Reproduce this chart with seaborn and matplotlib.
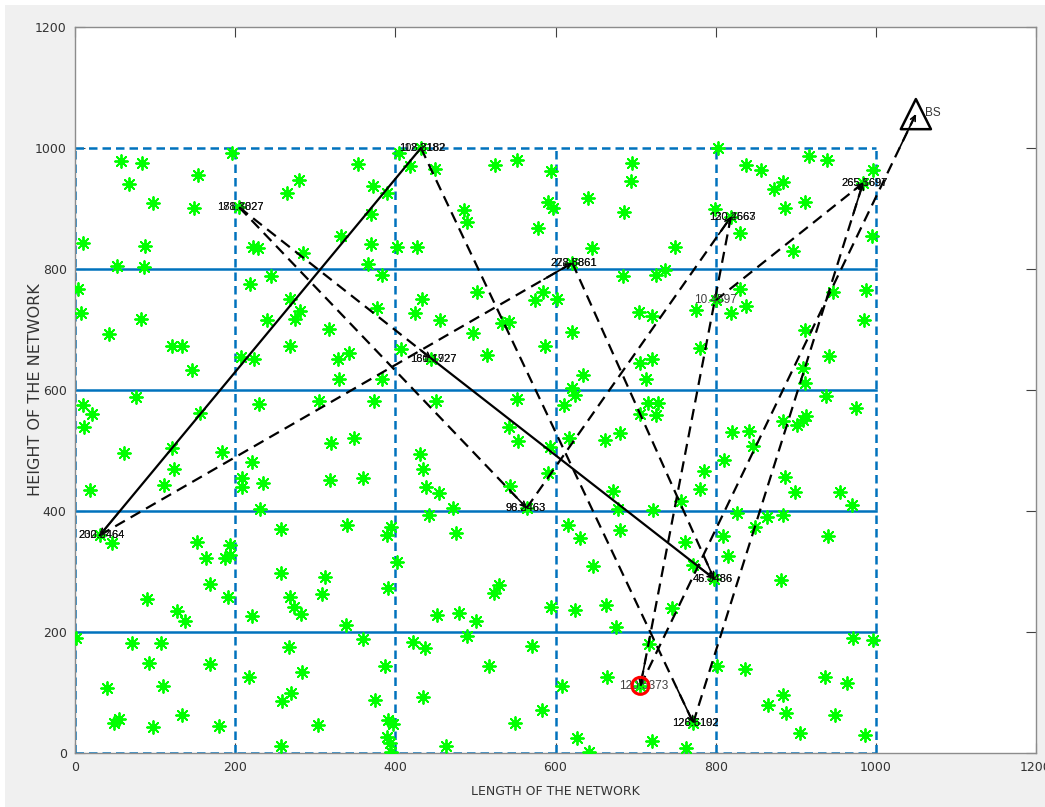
import matplotlib
matplotlib.use("Agg")
import matplotlib.pyplot as plt
from matplotlib.patches import Rectangle
import pandas as pd
import seaborn as sns

# ---------------------------------------------------------------
# Sensor node positions (metres)
# ---------------------------------------------------------------
node_x = [196, 57, 84, 67, 154, 265, 280, 97, 148, 205, 10, 87, 222, 229, 285, 332, 53, 86, 245, 218,
          4, 8, 82, 43, 121, 133, 146, 269, 281, 275, 240, 317, 268, 207, 224, 329, 330, 342, 10, 21,
          11, 76, 156, 61, 121, 123, 111, 183, 19, 305, 230, 320, 221, 209, 208, 235, 318, 231, 257, 152,
          193, 340, 46, 31,
          1, 71, 107, 92, 168, 40, 110, 49, 55, 98, 134, 180, 90, 127, 137, 191, 169, 163, 187, 193,
          221, 217, 257, 268, 274, 282, 312, 309, 339, 267, 283, 270, 259, 304, 257,
          354, 372, 389, 370, 370, 366, 383, 402, 427, 404, 432, 418, 449, 486, 490, 524, 552, 594, 591, 597,
          578, 640, 646, 686, 695, 694, 749, 684, 726, 737, 621,
          502, 433, 424, 377, 456, 575, 585, 602, 533, 542, 497, 620, 587, 515, 407, 445, 383, 634, 621, 624,
          610, 373, 451, 552, 704, 720, 705, 720, 713, 776, 780, 716, 728, 725, 705, 348, 542, 553, 617, 593,
          662, 680, 591, 431, 434, 360, 438, 454, 543, 672, 678, 722, 757, 780, 442, 472, 395, 390, 476, 616,
          630, 680, 762, 564,
          402, 391, 523, 530, 452, 480, 501, 490, 360, 422, 437, 387, 517, 571, 374, 435, 391, 397, 389, 393,
          394, 463, 549, 583, 608, 594, 624, 647, 663, 676, 772, 746, 717, 664, 627, 642, 720, 763, 706, 772,
          803, 838, 857, 873, 884, 917, 939, 996, 984, 886, 911, 830, 799, 819, 897, 995,
          830, 838, 819, 800, 911, 942, 909, 911, 988, 985, 938, 975, 884, 902, 913, 909, 820, 841, 847, 811,
          785, 899, 887, 955, 970, 827, 864, 884, 849, 809, 940, 947,
          816, 882, 798, 972, 996, 802, 837, 936, 964, 884, 888, 865, 949, 905, 986]
node_y = [992, 978, 976, 940, 956, 925, 947, 909, 900, 902, 843, 838, 837, 834, 827, 855, 805, 803, 788, 776,
          767, 728, 718, 692, 672, 672, 633, 750, 731, 717, 715, 700, 673, 654, 652, 651, 618, 661, 575, 560,
          539, 588, 562, 496, 504, 470, 443, 498, 435, 581, 577, 512, 481, 454, 440, 447, 452, 403, 370, 348,
          343, 377, 347, 360,
          190, 181, 181, 148, 147, 107, 111, 50, 57, 43, 62, 45, 254, 234, 219, 258, 279, 323, 322, 327,
          226, 126, 298, 258, 241, 230, 291, 263, 212, 176, 134, 100, 86, 46, 12,
          974, 938, 926, 891, 842, 808, 790, 836, 837, 991, 1000, 971, 966, 897, 878, 972, 980, 962, 911, 900,
          867, 918, 834, 895, 975, 945, 837, 788, 790, 798, 810,
          762, 750, 728, 735, 715, 748, 762, 751, 711, 713, 695, 696, 673, 658, 668, 652, 618, 625, 603, 592,
          575, 581, 582, 585, 729, 722, 645, 651, 619, 733, 669, 579, 578, 559, 560, 520, 539, 516, 521, 505,
          517, 529, 463, 494, 470, 454, 439, 429, 441, 433, 403, 402, 417, 437, 393, 405, 374, 360, 363, 377,
          355, 368, 349, 405,
          316, 272, 264, 278, 228, 231, 219, 193, 188, 184, 173, 143, 144, 177, 88, 92, 55, 48, 27, 16,
          2, 12, 49, 71, 110, 241, 236, 309, 245, 209, 311, 239, 180, 126, 24, 2, 20, 8, 111, 50,
          1000, 972, 964, 933, 944, 987, 980, 964, 942, 900, 910, 859, 899, 886, 830, 855,
          767, 739, 728, 748, 699, 656, 637, 611, 766, 716, 590, 571, 548, 542, 557, 550, 531, 533, 507, 484,
          466, 432, 457, 432, 410, 396, 390, 393, 374, 359, 358, 762,
          326, 286, 288, 190, 187, 143, 139, 126, 115, 96, 66, 79, 63, 33, 30]

# ---------------------------------------------------------------
# Cluster heads and their residual-energy labels
# ---------------------------------------------------------------
head_id = ["A", "B", "C", "D", "E", "F", "G", "H", "I", "J", "K", "L"]
head_x = [31, 432, 205, 445, 621, 564, 819, 800, 984, 798, 706, 772]
head_y = [360, 1000, 902, 652, 810, 405, 886, 748, 942, 288, 111, 50]
label_a = ["202.9464", "108.8182", "181.3027", "181.1927", "228.8861", "96.3463",
           "120.2567", "10.4597", "265.5697", "46.3486", "120.5373", "128.5102"]
label_b = ["230.2464", "112.2182", "178.1827", "160.1727", "272.5861", "98.2463",
           "130.4663", "", "265.1697", "45.7486", "", "126.6192"]

# base station
bs_x, bs_y = 1050, 1056

# routing hops: (from, to, style)
hops = [("B", "A", "solid"), ("D", "J", "solid"),
        ("C", "D", "dashed"), ("C", "F", "dashed"), ("F", "G", "dashed"),
        ("A", "E", "dashed"), ("E", "J", "dashed"), ("G", "K", "dashed"),
        ("H", "I", "dashed"), ("L", "I", "dashed"), ("B", "L", "dashed"),
        ("K", "BS", "dashed")]

# zone grid
zone_edges = [0, 200, 400, 600, 800, 1000]
ticks = [0, 200, 400, 600, 800, 1000, 1200]

# ---------------------------------------------------------------
W, H = 1045, 807
fig = plt.figure(figsize=(W / 100, H / 100), dpi=100)
fig.patch.set_facecolor("#f0f0f0")
# thin white frame along the top and left edges of the window
fig.patches.append(Rectangle((0, 1 - 5 / H), 1, 5 / H, transform=fig.transFigure,
                             facecolor="white", edgecolor="none", zorder=-5))
fig.patches.append(Rectangle((0, 0), 5 / W, 1, transform=fig.transFigure,
                             facecolor="white", edgecolor="none", zorder=-5))
ax = fig.add_axes([75 / W, 1 - 753 / H, (1036 - 75) / W, (753 - 27) / H])
ax.set_facecolor("white")

plt.rcParams["font.family"] = ["Liberation Sans Narrow", "Liberation Sans", "DejaVu Sans"]

blue = "#0072BD"
dash_blue = (0, (3.4, 2.0))
for xe in zone_edges:
    ax.plot([xe, xe], [0, 1000], color=blue, lw=1.8, linestyle=dash_blue, zorder=2)
ax.plot([0, 1000], [0, 0], color=blue, lw=1.8, linestyle=dash_blue, zorder=2)
ax.plot([0, 1000], [1000, 1000], color=blue, lw=1.8, linestyle=dash_blue, zorder=2)
for ye in zone_edges[1:-1]:
    ax.plot([0, 1000], [ye, ye], color=blue, lw=1.8, zorder=2)

sensors = pd.DataFrame({"x": node_x, "y": node_y})
sns.scatterplot(data=sensors, x="x", y="y", ax=ax, color="#00ff00",
                marker=(8, 2, 0), s=85, linewidth=1.35, zorder=3, legend=False)

pos = {h: (x, y) for h, x, y in zip(head_id, head_x, head_y)}
pos["BS"] = (bs_x, bs_y)
for a, b, style in hops:
    (x0, y0), (x1, y1) = pos[a], pos[b]
    ls = "-" if style == "solid" else (0, (5, 3))
    ax.plot([x0, x1], [y0, y1], color="black", lw=1.6, linestyle=ls, zorder=4)
    # arrow head at the receiving end
    ax.annotate("", xy=(x1, y1), xytext=(x1 - 0.06 * (x1 - x0), y1 - 0.06 * (y1 - y0)),
                arrowprops=dict(arrowstyle="->", color="black", lw=1.2,
                                mutation_scale=9, shrinkA=0, shrinkB=0), zorder=5)

for hx, hy, la, lb in zip(head_x, head_y, label_a, label_b):
    if lb:
        ax.text(hx - 27, hy, lb, fontsize=8, color="#111111", va="center", ha="left", zorder=6)
        ax.text(hx - 27, hy, la, fontsize=8, color="#111111", va="center", ha="left", zorder=6)
    else:
        ax.text(hx - 27, hy, la, fontsize=8.5, color="#404040", va="center", ha="left", zorder=6)

k = head_id.index("K")
ax.scatter([head_x[k]], [head_y[k]], s=150, facecolors="none", edgecolors="red",
           linewidths=2.2, zorder=7)

ax.scatter([bs_x], [bs_y], marker="^", s=470, facecolors="none", edgecolors="black",
           linewidths=1.8, zorder=7)
ax.text(bs_x + 12, bs_y + 2, "BS", fontsize=8.5, color="#333333", va="center", ha="left")

ax.set_xlim(0, 1200)
ax.set_ylim(0, 1200)
ax.set_xticks(ticks)
ax.set_yticks(ticks)
ax.set_xticklabels([str(t) for t in ticks])
ax.set_yticklabels([str(t) for t in ticks])
ax.tick_params(direction="in", top=True, right=True, length=7, width=0.8,
               color="#404040", labelsize=9, labelcolor="#333333", pad=6)
for sp in ax.spines.values():
    sp.set_color("#8c8c8c")
    sp.set_linewidth(1.0)
ax.set_xlabel("LENGTH OF THE NETWORK", fontsize=9, color="#333333")
ax.set_ylabel("HEIGHT OF THE NETWORK", fontsize=11.5, color="#333333",
              family=["DejaVu Sans"])
ax.xaxis.set_label_coords(0.5, -32 / (753 - 27))
ax.yaxis.set_label_coords(-32 / (1036 - 75), 0.5)

fig.savefig("out.png", dpi=100, facecolor=fig.get_facecolor())
